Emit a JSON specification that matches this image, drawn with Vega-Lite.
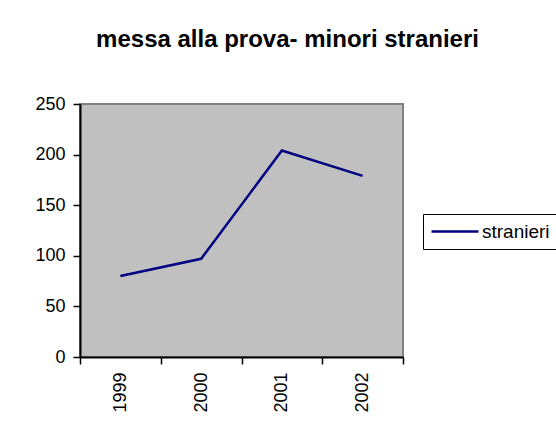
{
  "$schema": "https://vega.github.io/schema/vega-lite/v6.json",
  "autosize": {"type": "none"},
  "padding": {"left": 80, "top": 104, "right": 153, "bottom": 75},
  "width": 323,
  "height": 253,
  "background": "white",
  "title": {
    "text": "messa alla prova- minori stranieri",
    "font": "Liberation Sans",
    "fontSize": 24,
    "fontWeight": "bold",
    "color": "black",
    "anchor": "middle",
    "baseline": "alphabetic",
    "offset": 24,
    "dx": 46
  },
  "config": {
    "view": {"fill": "#C0C0C0", "stroke": "#808080", "strokeWidth": 2},
    "axis": {
      "labelFont": "Liberation Sans",
      "labelFontSize": 18,
      "labelColor": "black",
      "domainColor": "black",
      "domainWidth": 2,
      "tickColor": "black",
      "tickWidth": 1.5,
      "tickSize": 7,
      "labelPadding": 8,
      "grid": false,
      "title": null
    },
    "legend": {
      "labelFont": "Liberation Sans",
      "labelFontSize": 19,
      "labelColor": "black"
    }
  },
  "data": {
    "values": [
      {"anno": "1999", "valore": 80, "serie": "stranieri"},
      {"anno": "2000", "valore": 97, "serie": "stranieri"},
      {"anno": "2001", "valore": 204, "serie": "stranieri"},
      {"anno": "2002", "valore": 179, "serie": "stranieri"}
    ]
  },
  "mark": {"type": "line", "strokeWidth": 2.5},
  "encoding": {
    "x": {
      "field": "anno",
      "type": "ordinal",
      "bandPosition": 0.5,
      "scale": {"type": "band", "paddingInner": 0, "paddingOuter": 0},
      "axis": {"labelAngle": -90, "tickBand": "extent"}
    },
    "y": {
      "field": "valore",
      "type": "quantitative",
      "scale": {"domain": [0, 250], "nice": false},
      "axis": {"values": [0, 50, 100, 150, 200, 250]}
    },
    "color": {
      "field": "serie",
      "type": "nominal",
      "scale": {"range": ["#000080"]},
      "legend": {
        "title": null,
        "orient": "none",
        "legendX": 343,
        "legendY": 110,
        "symbolType": "M-1,0H4.22",
        "symbolSize": 324,
        "symbolStrokeWidth": 2.5,
        "symbolFillColor": "transparent",
        "labelOffset": 31,
        "padding": 7,
        "strokeColor": "black",
        "fillColor": "white",
        "labelLimit": 300
      }
    }
  }
}
